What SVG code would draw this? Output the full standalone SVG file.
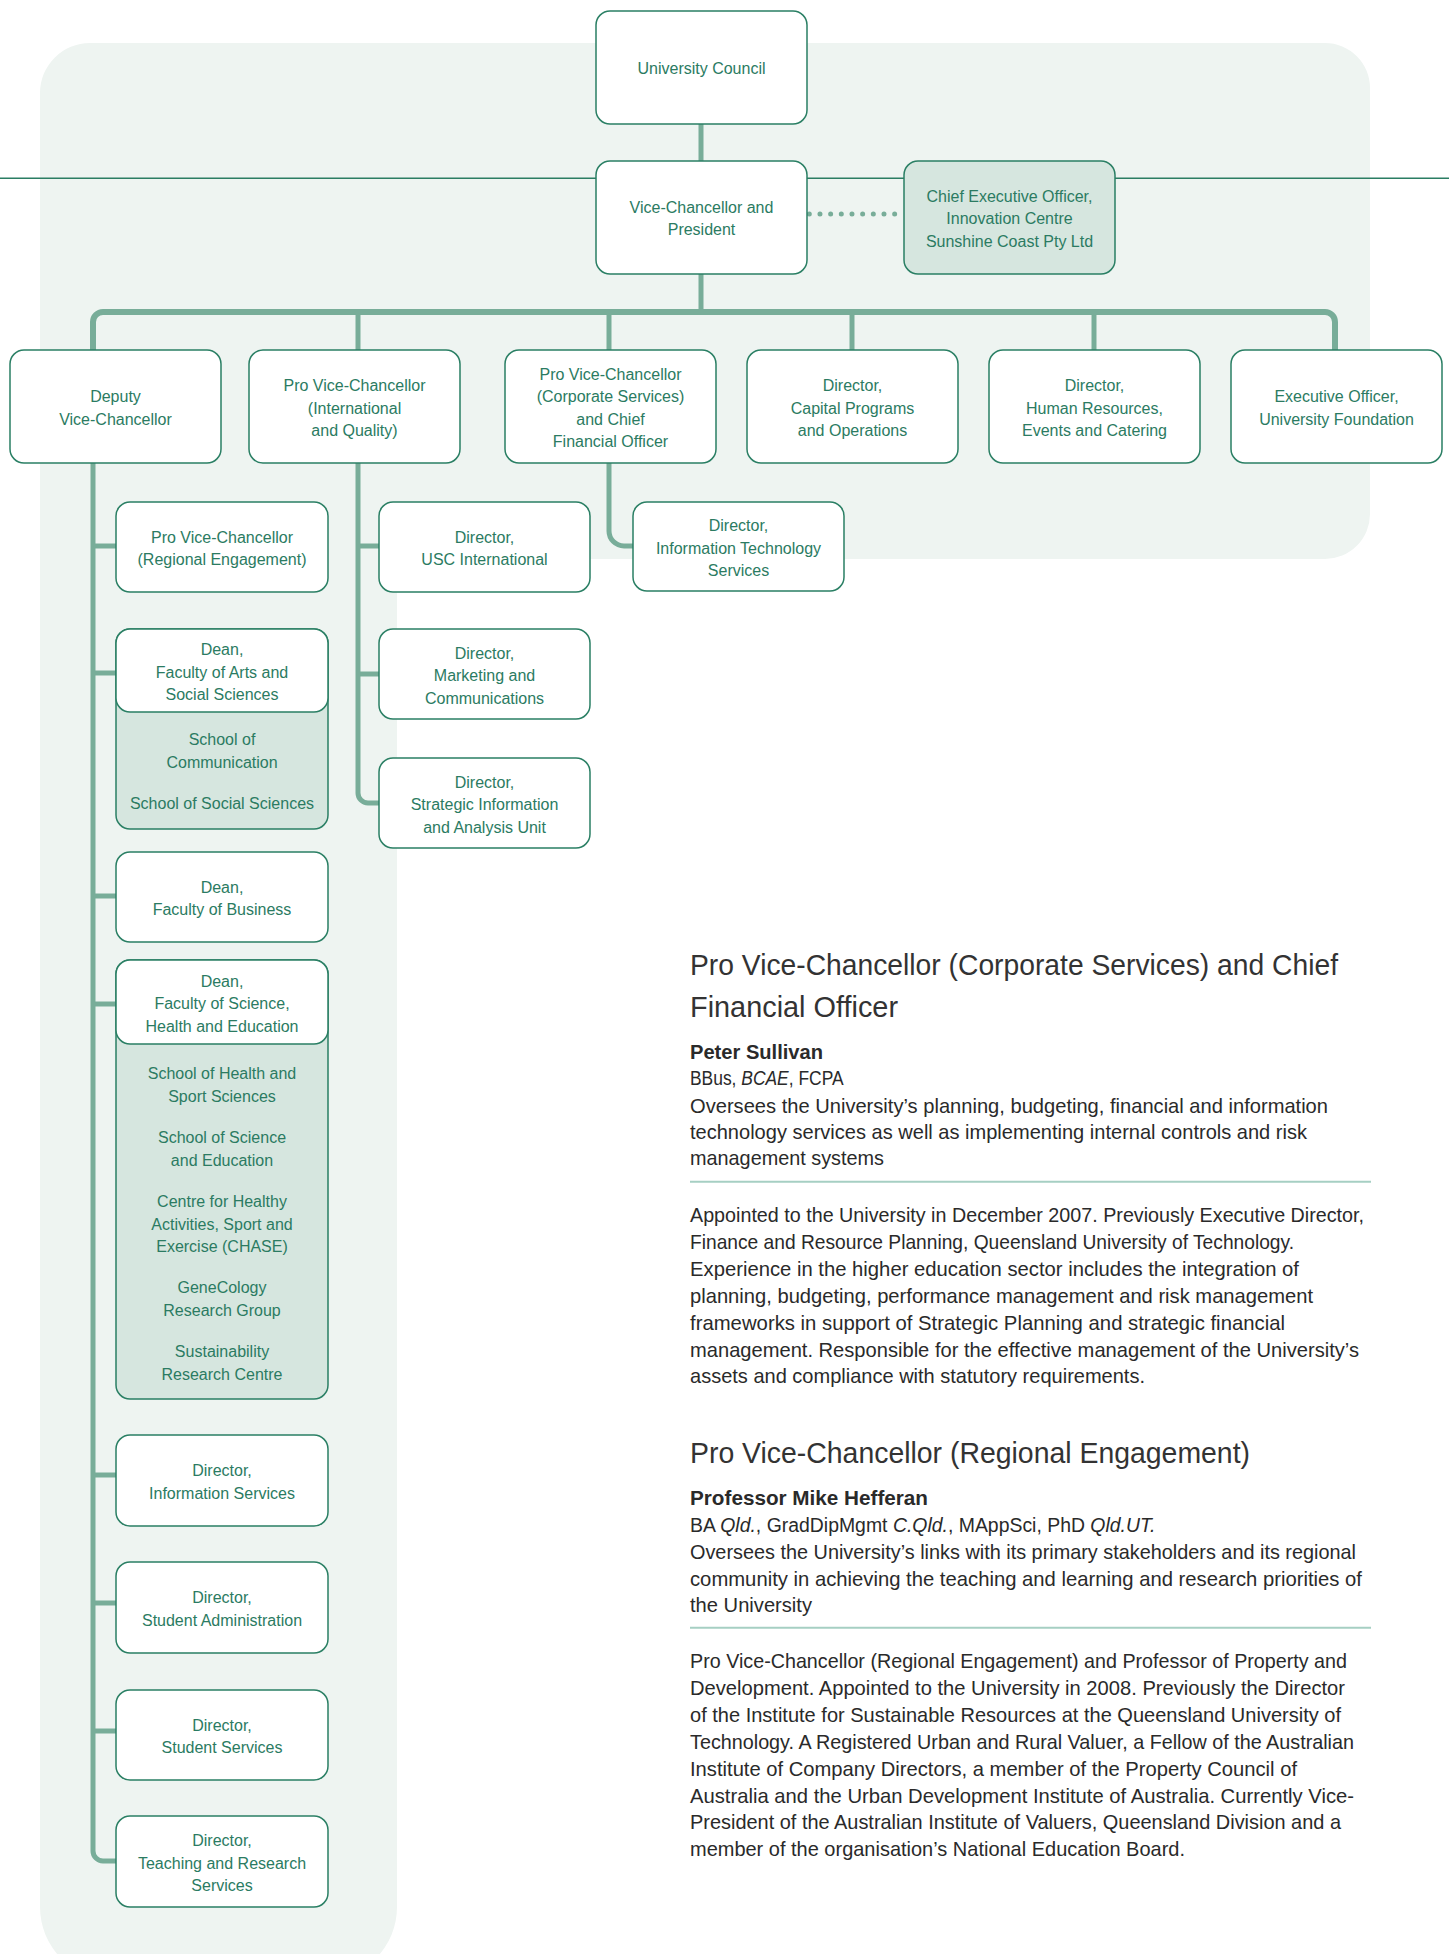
<svg xmlns="http://www.w3.org/2000/svg" width="1449" height="1954" viewBox="0 0 1449 1954">
<style>
.bx{fill:#ffffff;stroke:#2a7f64;stroke-width:1.5}
.gr{fill:#d6e6df;stroke:#2a7f64;stroke-width:1.5}
.t{font-family:"Liberation Sans",Arial,sans-serif;font-size:16px;fill:#2b7b62;text-anchor:middle}
.c{fill:none;stroke:#78ad99;stroke-width:5}
.p{font-family:"Liberation Sans",Arial,sans-serif;font-size:21px;fill:#2a2a2a}
.h{font-family:"Liberation Sans",Arial,sans-serif;font-size:30px;fill:#333333}
.nm{font-weight:bold}
.it{font-style:italic}
.rule{stroke:#a6cfc3;stroke-width:2}
</style>
<rect width="1449" height="1954" fill="#ffffff"/>
<path id="panel" d="M 90 43 H 1325 A 45 45 0 0 1 1370 88 V 514 A 45 45 0 0 1 1325 559 H 397 V 1907 A 73 73 0 0 1 324 1980 H 113 A 73 73 0 0 1 40 1907 V 93 A 50 50 0 0 1 90 43 Z" fill="#eef4f1"/>
<line x1="0" y1="178.3" x2="1449" y2="178.3" stroke="#2a7d63" stroke-width="1.5"/>
<g id="connectors">
<path class="c" d="M701 124 V161"/>
<path class="c" d="M701 274 V312"/>
<path class="c" style="stroke-width:6" d="M93 350 V322 A10 10 0 0 1 103 312 H1325 A10 10 0 0 1 1335 322 V350"/>
<path class="c" d="M358 312 V350 M609 312 V350 M852 312 V350 M1094 312 V350"/>
<path class="c" d="M93 463 V1851 A10 10 0 0 0 103 1861 H116"/>
<path class="c" d="M93 546 H116 M93 673 H116 M93 896 H116 M93 1004 H116 M93 1475 H116 M93 1603 H116 M93 1731 H116"/>
<path class="c" d="M358 463 V793 A10 10 0 0 0 368 803 H379"/>
<path class="c" d="M358 546 H379 M358 674 H379"/>
<path class="c" d="M609 463 V531 A15 15 0 0 0 624 546 H633"/>
<path d="M809.3 214 H896" fill="none" stroke="#78ad99" stroke-width="5" stroke-linecap="round" stroke-dasharray="0 10.67"/>
</g>
<g id="university-council"><rect class="bx" x="596" y="11" width="211" height="113" rx="14"/><text class="t"><tspan x="701.5" y="74">University Council</tspan></text></g>
<g id="vice-chancellor"><rect class="bx" x="596" y="161" width="211" height="113" rx="14"/><text class="t"><tspan x="701.5" y="212.75">Vice-Chancellor and</tspan><tspan x="701.5" y="235.25">President</tspan></text></g>
<g id="ceo-innovation"><rect class="gr" x="904" y="161" width="211" height="113" rx="14"/><text class="t"><tspan x="1009.5" y="201.5">Chief Executive Officer,</tspan><tspan x="1009.5" y="224">Innovation Centre</tspan><tspan x="1009.5" y="246.5">Sunshine Coast Pty Ltd</tspan></text></g>
<g id="deputy-vc"><rect class="bx" x="10" y="350" width="211" height="113" rx="14"/><text class="t"><tspan x="115.5" y="402.25">Deputy</tspan><tspan x="115.5" y="424.75">Vice-Chancellor</tspan></text></g>
<g id="pvc-international"><rect class="bx" x="249" y="350" width="211" height="113" rx="14"/><text class="t"><tspan x="354.5" y="391">Pro Vice-Chancellor</tspan><tspan x="354.5" y="413.5">(International</tspan><tspan x="354.5" y="436">and Quality)</tspan></text></g>
<g id="pvc-corporate"><rect class="bx" x="505" y="350" width="211" height="113" rx="14"/><text class="t"><tspan x="610.5" y="379.75">Pro Vice-Chancellor</tspan><tspan x="610.5" y="402.25">(Corporate Services)</tspan><tspan x="610.5" y="424.75">and Chief</tspan><tspan x="610.5" y="447.25">Financial Officer</tspan></text></g>
<g id="director-capital"><rect class="bx" x="747" y="350" width="211" height="113" rx="14"/><text class="t"><tspan x="852.5" y="391">Director,</tspan><tspan x="852.5" y="413.5">Capital Programs</tspan><tspan x="852.5" y="436">and Operations</tspan></text></g>
<g id="director-hr"><rect class="bx" x="989" y="350" width="211" height="113" rx="14"/><text class="t"><tspan x="1094.5" y="391">Director,</tspan><tspan x="1094.5" y="413.5">Human Resources,</tspan><tspan x="1094.5" y="436">Events and Catering</tspan></text></g>
<g id="exec-foundation"><rect class="bx" x="1231" y="350" width="211" height="113" rx="14"/><text class="t"><tspan x="1336.5" y="402.25">Executive Officer,</tspan><tspan x="1336.5" y="424.75">University Foundation</tspan></text></g>
<g id="pvc-regional"><rect class="bx" x="116" y="502" width="212" height="90" rx="14"/><text class="t"><tspan x="222" y="542.75">Pro Vice-Chancellor</tspan><tspan x="222" y="565.25">(Regional Engagement)</tspan></text></g>
<g id="dean-arts"><rect class="gr" x="116" y="629" width="212" height="200" rx="14"/><rect class="bx" x="116" y="629" width="212" height="83" rx="14"/><text class="t"><tspan x="222" y="655">Dean,</tspan><tspan x="222" y="677.5">Faculty of Arts and</tspan><tspan x="222" y="700">Social Sciences</tspan><tspan x="222" y="745">School of</tspan><tspan x="222" y="767.5">Communication</tspan><tspan x="222" y="809">School of Social Sciences</tspan></text></g>
<g id="dean-business"><rect class="bx" x="116" y="852" width="212" height="90" rx="14"/><text class="t"><tspan x="222" y="892.75">Dean,</tspan><tspan x="222" y="915.25">Faculty of Business</tspan></text></g>
<g id="dean-science"><rect class="gr" x="116" y="960" width="212" height="439" rx="14"/><rect class="bx" x="116" y="960" width="212" height="84" rx="14"/><text class="t"><tspan x="222" y="986.5">Dean,</tspan><tspan x="222" y="1009">Faculty of Science,</tspan><tspan x="222" y="1031.5">Health and Education</tspan><tspan x="222" y="1079">School of Health and</tspan><tspan x="222" y="1101.5">Sport Sciences</tspan><tspan x="222" y="1143">School of Science</tspan><tspan x="222" y="1165.5">and Education</tspan><tspan x="222" y="1207">Centre for Healthy</tspan><tspan x="222" y="1229.5">Activities, Sport and</tspan><tspan x="222" y="1252">Exercise (CHASE)</tspan><tspan x="222" y="1293">GeneCology</tspan><tspan x="222" y="1315.5">Research Group</tspan><tspan x="222" y="1357">Sustainability</tspan><tspan x="222" y="1379.5">Research Centre</tspan></text></g>
<g id="director-info-services"><rect class="bx" x="116" y="1435" width="212" height="91" rx="14"/><text class="t"><tspan x="222" y="1476.25">Director,</tspan><tspan x="222" y="1498.75">Information Services</tspan></text></g>
<g id="director-student-admin"><rect class="bx" x="116" y="1562" width="212" height="91" rx="14"/><text class="t"><tspan x="222" y="1603.25">Director,</tspan><tspan x="222" y="1625.75">Student Administration</tspan></text></g>
<g id="director-student-services"><rect class="bx" x="116" y="1690" width="212" height="90" rx="14"/><text class="t"><tspan x="222" y="1730.75">Director,</tspan><tspan x="222" y="1753.25">Student Services</tspan></text></g>
<g id="director-teaching"><rect class="bx" x="116" y="1816" width="212" height="91" rx="14"/><text class="t"><tspan x="222" y="1846">Director,</tspan><tspan x="222" y="1868.5">Teaching and Research</tspan><tspan x="222" y="1891">Services</tspan></text></g>
<g id="director-usc-international"><rect class="bx" x="379" y="502" width="211" height="90" rx="14"/><text class="t"><tspan x="484.5" y="542.75">Director,</tspan><tspan x="484.5" y="565.25">USC International</tspan></text></g>
<g id="director-marketing"><rect class="bx" x="379" y="629" width="211" height="90" rx="14"/><text class="t"><tspan x="484.5" y="658.5">Director,</tspan><tspan x="484.5" y="681">Marketing and</tspan><tspan x="484.5" y="703.5">Communications</tspan></text></g>
<g id="director-strategic"><rect class="bx" x="379" y="758" width="211" height="90" rx="14"/><text class="t"><tspan x="484.5" y="787.5">Director,</tspan><tspan x="484.5" y="810">Strategic Information</tspan><tspan x="484.5" y="832.5">and Analysis Unit</tspan></text></g>
<g id="director-it"><rect class="bx" x="633" y="502" width="211" height="89" rx="14"/><text class="t"><tspan x="738.5" y="531">Director,</tspan><tspan x="738.5" y="553.5">Information Technology</tspan><tspan x="738.5" y="576">Services</tspan></text></g>
<g id="profile-corporate">
<text class="h" x="690" y="975" textLength="648" lengthAdjust="spacingAndGlyphs">Pro Vice-Chancellor (Corporate Services) and Chief</text>
<text class="h" x="690" y="1017" textLength="208" lengthAdjust="spacingAndGlyphs">Financial Officer</text>
<text class="p nm" x="690" y="1059" textLength="133" lengthAdjust="spacingAndGlyphs">Peter Sullivan</text>
<text class="p" transform="translate(690 1085) scale(0.83 1)">BBus, <tspan class="it">BCAE</tspan>, FCPA</text>
<text class="p" x="690" y="1112.5" textLength="638" lengthAdjust="spacingAndGlyphs">Oversees the University’s planning, budgeting, financial and information</text>
<text class="p" x="690" y="1139" textLength="617" lengthAdjust="spacingAndGlyphs">technology services as well as implementing internal controls and risk</text>
<text class="p" x="690" y="1165" textLength="194" lengthAdjust="spacingAndGlyphs">management systems</text>
<line class="rule" x1="690" y1="1181.7" x2="1371" y2="1181.7"/>
<text class="p" x="690" y="1221.7" textLength="674" lengthAdjust="spacingAndGlyphs">Appointed to the University in December 2007. Previously Executive Director,</text>
<text class="p" x="690" y="1248.5" textLength="604" lengthAdjust="spacingAndGlyphs">Finance and Resource Planning, Queensland University of Technology.</text>
<text class="p" x="690" y="1275.5" textLength="609" lengthAdjust="spacingAndGlyphs">Experience in the higher education sector includes the integration of</text>
<text class="p" x="690" y="1302.5" textLength="623" lengthAdjust="spacingAndGlyphs">planning, budgeting, performance management and risk management</text>
<text class="p" x="690" y="1329.5" textLength="595" lengthAdjust="spacingAndGlyphs">frameworks in support of Strategic Planning and strategic financial</text>
<text class="p" x="690" y="1356.5" textLength="669" lengthAdjust="spacingAndGlyphs">management. Responsible for the effective management of the University’s</text>
<text class="p" x="690" y="1383.3" textLength="455" lengthAdjust="spacingAndGlyphs">assets and compliance with statutory requirements.</text>
</g>
<g id="profile-regional">
<text class="h" x="690" y="1463" textLength="560" lengthAdjust="spacingAndGlyphs">Pro Vice-Chancellor (Regional Engagement)</text>
<text class="p nm" x="690" y="1505" textLength="238" lengthAdjust="spacingAndGlyphs">Professor Mike Hefferan</text>
<text class="p" transform="translate(690 1531.7) scale(0.925 1)">BA <tspan class="it">Qld.</tspan>, GradDipMgmt <tspan class="it">C.Qld.</tspan>, MAppSci, PhD <tspan class="it">Qld.UT.</tspan></text>
<text class="p" x="690" y="1559.3" textLength="666" lengthAdjust="spacingAndGlyphs">Oversees the University’s links with its primary stakeholders and its regional</text>
<text class="p" x="690" y="1586" textLength="672" lengthAdjust="spacingAndGlyphs">community in achieving the teaching and learning and research priorities of</text>
<text class="p" x="690" y="1612" textLength="122" lengthAdjust="spacingAndGlyphs">the University</text>
<line class="rule" x1="690" y1="1627.7" x2="1371" y2="1627.7"/>
<text class="p" x="690" y="1668.3" textLength="657" lengthAdjust="spacingAndGlyphs">Pro Vice-Chancellor (Regional Engagement) and Professor of Property and</text>
<text class="p" x="690" y="1695" textLength="655" lengthAdjust="spacingAndGlyphs">Development. Appointed to the University in 2008. Previously the Director</text>
<text class="p" x="690" y="1721.7" textLength="651" lengthAdjust="spacingAndGlyphs">of the Institute for Sustainable Resources at the Queensland University of</text>
<text class="p" x="690" y="1749.3" textLength="664" lengthAdjust="spacingAndGlyphs">Technology. A Registered Urban and Rural Valuer, a Fellow of the Australian</text>
<text class="p" x="690" y="1776" textLength="607" lengthAdjust="spacingAndGlyphs">Institute of Company Directors, a member of the Property Council of</text>
<text class="p" x="690" y="1802.7" textLength="664" lengthAdjust="spacingAndGlyphs">Australia and the Urban Development Institute of Australia. Currently Vice-</text>
<text class="p" x="690" y="1829.3" textLength="651" lengthAdjust="spacingAndGlyphs">President of the Australian Institute of Valuers, Queensland Division and a</text>
<text class="p" x="690" y="1856" textLength="495" lengthAdjust="spacingAndGlyphs">member of the organisation’s National Education Board.</text>
</g>
</svg>
